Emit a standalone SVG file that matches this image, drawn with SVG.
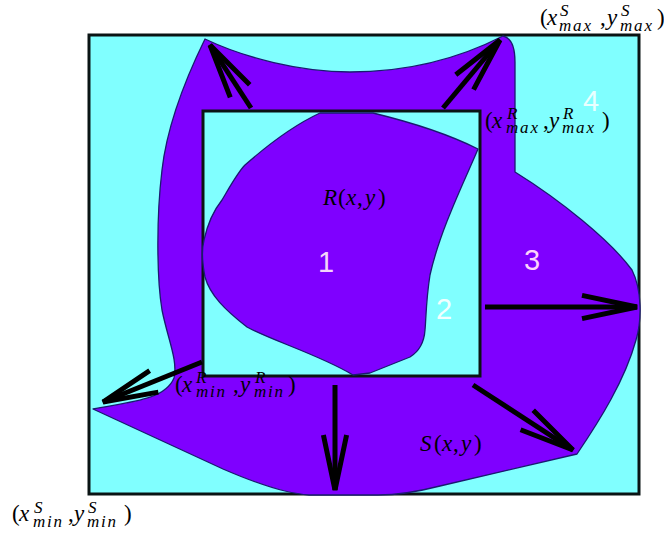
<svg xmlns="http://www.w3.org/2000/svg" width="664" height="533" viewBox="0 0 664 533">
<style>
.bg{fill:#80ffff;stroke:#0a1414;stroke-width:3}
.shape{fill:#7f00ff;stroke:#1a1a70;stroke-width:1.3;stroke-linejoin:round}
.arrow{fill:none;stroke:#000;stroke-width:5}
.m{font-family:"Liberation Serif","Times New Roman",serif;font-size:23px;fill:#000}
.i{font-style:italic}
.s{font-size:17px;font-style:italic;letter-spacing:1.8px}
.sp{font-size:17px;font-style:italic}
.d{font-family:"Liberation Sans",Arial,sans-serif;font-size:29px;text-anchor:middle}
</style>
<defs>
<marker id="vhead" markerUnits="userSpaceOnUse" markerWidth="80" markerHeight="40" refX="0" refY="0" orient="auto" overflow="visible">
<path d="M-55,-11.6 L0,0 L-55,11.6" fill="none" stroke="#000" stroke-width="5"/>
</marker>
</defs>
<rect width="664" height="533" fill="#fff"/>
<g id="S-region">
<rect class="bg" x="89" y="35" width="550" height="459"/>
<path class="shape" d="M205,39 C245,58 300,72 350,72 C410,72 460,58 503,36 C512,38 515,50 515,62 L515,172 C560,200 610,240 632,270 C642,290 642,320 636,340 C625,380 600,420 577,454 L440,486 Q405,495 378,495 L309,495 C290,494 260,485 223,469 L93,409 C130,402 165,400 174,378 C178,360 168,340 162,310 C157,280 156,220 162,170 C166,135 180,90 205,39 Z"/>
</g>
<g id="R-region">
<rect class="bg" x="203" y="111" width="277" height="265"/>
<path class="shape" d="M320,113 L373,113 C410,122 450,135 478,149 C465,180 440,230 430,275 C426,300 426,320 425,330 C424,345 418,352 410,357 L370,373 L353,375 C320,355 270,340 247,327 C225,310 210,295 205,277 C202,262 202,248 204,240 C208,222 214,210 222,200 C232,183 238,172 245,165 C262,150 290,127 320,113 Z"/>
</g>
<g id="connectors">
<line class="arrow" x1="251" y1="108" x2="210" y2="45" marker-end="url(#vhead)"/>
<line class="arrow" x1="443" y1="108" x2="500" y2="40" marker-end="url(#vhead)"/>
<line class="arrow" x1="485" y1="307" x2="637" y2="307" marker-end="url(#vhead)"/>
<line class="arrow" x1="473" y1="385" x2="573" y2="450" marker-end="url(#vhead)"/>
<line class="arrow" x1="335" y1="385" x2="335" y2="490" marker-end="url(#vhead)"/>
<line class="arrow" x1="202" y1="362" x2="103" y2="402" marker-end="url(#vhead)"/>
</g>
<g id="numbers">
<text class="d" x="326" y="272" fill="#f4d4fa">1</text>
<text class="d" x="444" y="319" fill="#f2ffff">2</text>
<text class="d" x="532" y="270" fill="#fcd2fc">3</text>
<text class="d" x="591" y="111" fill="#eaffff">4</text>
</g>
<g id="labels">
<text class="m"><tspan x="323" y="205" class="i">R</tspan><tspan x="338" y="205">(</tspan><tspan x="346" y="205" class="i">x</tspan><tspan x="357" y="205">,</tspan><tspan x="365" y="205" class="i">y</tspan><tspan x="378" y="205">)</tspan></text>
<text class="m"><tspan x="420" y="451" class="i">S</tspan><tspan x="434" y="451">(</tspan><tspan x="442" y="451" class="i">x</tspan><tspan x="453" y="451">,</tspan><tspan x="461" y="451" class="i">y</tspan><tspan x="474" y="451">)</tspan></text>
<text class="m"><tspan x="540" y="25">(</tspan><tspan x="547" y="25" class="i">x</tspan><tspan x="560" y="16" class="sp">S</tspan><tspan x="559" y="31" class="s">max</tspan><tspan x="600" y="25">,</tspan><tspan x="607" y="25" class="i">y</tspan><tspan x="621" y="16" class="sp">S</tspan><tspan x="620" y="31" class="s">max</tspan><tspan x="657" y="25">)</tspan></text>
<text class="m"><tspan x="485" y="128">(</tspan><tspan x="492" y="128" class="i">x</tspan><tspan x="507" y="119" class="sp">R</tspan><tspan x="506" y="133" class="s">max</tspan><tspan x="543" y="128">,</tspan><tspan x="549" y="128" class="i">y</tspan><tspan x="563" y="119" class="sp">R</tspan><tspan x="562" y="133" class="s">max</tspan><tspan x="602" y="128">)</tspan></text>
<text class="m"><tspan x="175" y="392">(</tspan><tspan x="182" y="392" class="i">x</tspan><tspan x="196" y="383" class="sp">R</tspan><tspan x="196" y="397" class="s">min</tspan><tspan x="233" y="392">,</tspan><tspan x="240" y="392" class="i">y</tspan><tspan x="255" y="383" class="sp">R</tspan><tspan x="254" y="397" class="s">min</tspan><tspan x="288" y="392">)</tspan></text>
<text class="m"><tspan x="12" y="521">(</tspan><tspan x="19" y="521" class="i">x</tspan><tspan x="34" y="513" class="sp">S</tspan><tspan x="33" y="527" class="s">min</tspan><tspan x="68" y="521">,</tspan><tspan x="74" y="521" class="i">y</tspan><tspan x="88" y="513" class="sp">S</tspan><tspan x="87" y="527" class="s">min</tspan><tspan x="124" y="521">)</tspan></text>
</g>
</svg>
